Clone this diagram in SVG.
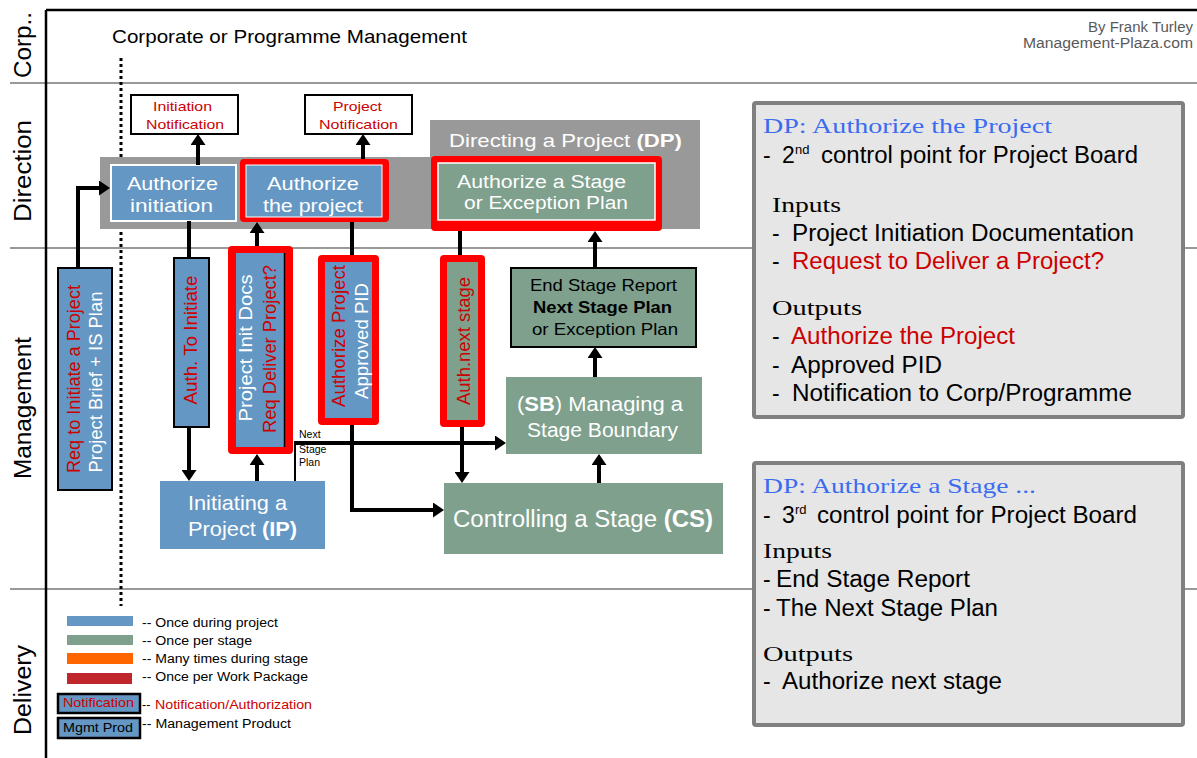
<svg xmlns="http://www.w3.org/2000/svg" width="1197" height="758" viewBox="0 0 1197 758">
<style>
text{font-family:"Liberation Sans",Arial,sans-serif}
.serif{font-family:"Liberation Serif","Times New Roman",serif}
.lane{font-size:23px;fill:#000}
.w{fill:#fff}
.r{fill:#cc0000}
.k{fill:#000}
.blue{fill:#6497c3}
.green{fill:#7ea08d}
.redhl{fill:#ff0000}
.conn{fill:none;stroke:#000;stroke-width:4}
.info{fill:#e6e6e6;stroke:#808080;stroke-width:4}
.lg{font-size:12.5px}
</style>
<defs>
<marker id="ah" viewBox="0 0 11 15" refX="3" refY="7.5" markerWidth="11" markerHeight="15" markerUnits="userSpaceOnUse" orient="auto">
<path d="M0,0 L11,7.5 L0,15 z" fill="#000"/>
</marker>
</defs>
<rect width="1197" height="758" fill="#fff"/>

<!-- frame and lanes -->
<g id="lanes">
<line x1="10" y1="83" x2="1197" y2="83" stroke="#999" stroke-width="2"/>
<line x1="10" y1="248" x2="1197" y2="248" stroke="#999" stroke-width="2"/>
<line x1="10" y1="589" x2="1197" y2="589" stroke="#999" stroke-width="2"/>
<line x1="46" y1="10" x2="1197" y2="10" stroke="#000" stroke-width="2.5"/>
<line x1="46" y1="10" x2="46" y2="758" stroke="#000" stroke-width="2.5"/>
<line x1="121" y1="58" x2="121" y2="606" stroke="#000" stroke-width="3" stroke-dasharray="3 3"/>
<text class="lane" text-anchor="middle" textLength="66" lengthAdjust="spacingAndGlyphs" transform="translate(31,45) rotate(-90)">Corp..</text>
<text class="lane" text-anchor="middle" textLength="102" lengthAdjust="spacingAndGlyphs" transform="translate(31,171) rotate(-90)">Direction</text>
<text class="lane" text-anchor="middle" textLength="142" lengthAdjust="spacingAndGlyphs" transform="translate(31,408) rotate(-90)">Management</text>
<text class="lane" text-anchor="middle" textLength="90" lengthAdjust="spacingAndGlyphs" transform="translate(31,690) rotate(-90)">Delivery</text>
<text x="112" y="43" font-size="19" textLength="355" lengthAdjust="spacingAndGlyphs">Corporate or Programme Management</text>
<text x="1088" y="32" font-size="14" fill="#595959" textLength="105" lengthAdjust="spacingAndGlyphs">By Frank Turley</text>
<text x="1023" y="48" font-size="14" fill="#595959" textLength="170" lengthAdjust="spacingAndGlyphs">Management-Plaza.com</text>
</g>

<!-- DP backdrop -->
<g id="dp">
<rect x="100" y="157" width="600" height="72" fill="#999"/>
<rect x="430" y="120" width="270" height="109" fill="#999"/>
<text x="449" y="147" font-size="19" class="w" textLength="233" lengthAdjust="spacingAndGlyphs">Directing a Project <tspan font-weight="bold">(DP)</tspan></text>
</g>

<g id="auth-init">
<rect x="111" y="165" width="125" height="56" class="blue" stroke="#fff" stroke-width="2"/>
<text x="127" y="190" font-size="19" class="w" textLength="91" lengthAdjust="spacingAndGlyphs">Authorize</text>
<text x="130" y="212" font-size="19" class="w" textLength="83" lengthAdjust="spacingAndGlyphs">initiation</text>
</g>

<g id="auth-project">
<rect x="240" y="159" width="149" height="63" rx="4" class="redhl"/>
<rect x="246" y="165" width="136" height="52" class="blue" stroke="#fff" stroke-width="1"/>
<text x="267" y="190" font-size="19" class="w" textLength="92" lengthAdjust="spacingAndGlyphs">Authorize</text>
<text x="263" y="212" font-size="19" class="w" textLength="100" lengthAdjust="spacingAndGlyphs">the project</text>
</g>

<g id="auth-stage">
<rect x="431" y="156" width="231" height="75" rx="4" class="redhl"/>
<rect x="438" y="163" width="217" height="57" class="green" stroke="#fff" stroke-width="1.5"/>
<text x="457" y="188" font-size="18" class="w" textLength="169" lengthAdjust="spacingAndGlyphs">Authorize a Stage</text>
<text x="464" y="209" font-size="18" class="w" textLength="164" lengthAdjust="spacingAndGlyphs">or Exception Plan</text>
</g>

<g id="init-notification">
<rect x="131" y="95" width="107" height="39" fill="#fff" stroke="#000" stroke-width="2"/>
<text x="153" y="111" font-size="13.5" class="r" textLength="59" lengthAdjust="spacingAndGlyphs">Initiation</text>
<text x="146" y="129" font-size="13.5" class="r" textLength="78" lengthAdjust="spacingAndGlyphs">Notification</text>
</g>

<g id="project-notification">
<rect x="305" y="95" width="107" height="39" fill="#fff" stroke="#000" stroke-width="2"/>
<text x="333" y="111" font-size="13.5" class="r" textLength="49" lengthAdjust="spacingAndGlyphs">Project</text>
<text x="319" y="129" font-size="13.5" class="r" textLength="79" lengthAdjust="spacingAndGlyphs">Notification</text>
</g>

<!-- Management lane products -->
<g id="req-initiate">
<rect x="58" y="268" width="54" height="222" class="blue" stroke="#000" stroke-width="2"/>
<text font-size="18" class="r" text-anchor="middle" textLength="188" lengthAdjust="spacingAndGlyphs" transform="translate(80,379) rotate(-90)">Req to Initiate a Project</text>
<text font-size="18" class="w" text-anchor="middle" textLength="181" lengthAdjust="spacingAndGlyphs" transform="translate(102,382) rotate(-90)">Project Brief + IS Plan</text>
</g>

<g id="auth-to-initiate">
<rect x="174" y="258" width="35" height="169" class="blue" stroke="#000" stroke-width="2"/>
<text font-size="18" class="r" text-anchor="middle" textLength="129" lengthAdjust="spacingAndGlyphs" transform="translate(197,340) rotate(-90)">Auth. To Initiate</text>
</g>

<g id="pid-docs">
<rect x="228" y="246" width="65" height="208" rx="4" class="redhl"/>
<rect x="236" y="253" width="49" height="194" class="blue"/>
<line x1="284.5" y1="253" x2="284.5" y2="447" stroke="#000" stroke-width="1.5"/>
<text font-size="18" class="w" text-anchor="middle" textLength="147" lengthAdjust="spacingAndGlyphs" transform="translate(252,348) rotate(-90)">Project Init Docs</text>
<text font-size="18" class="r" text-anchor="middle" textLength="168" lengthAdjust="spacingAndGlyphs" transform="translate(276,349) rotate(-90)">Req Deliver Project?</text>
</g>

<g id="approved-pid">
<rect x="318" y="255" width="61" height="170" rx="4" class="redhl"/>
<rect x="325" y="262" width="47" height="156" class="blue"/>
<text font-size="18" class="r" text-anchor="middle" textLength="142" lengthAdjust="spacingAndGlyphs" transform="translate(345,336) rotate(-90)">Authorize Project</text>
<text font-size="18" class="w" text-anchor="middle" textLength="116" lengthAdjust="spacingAndGlyphs" transform="translate(368,341) rotate(-90)">Approved PID</text>
</g>

<g id="auth-next-stage">
<rect x="440" y="255" width="45" height="172" rx="4" class="redhl"/>
<rect x="447" y="262" width="31" height="158" class="green"/>
<text font-size="18" class="r" text-anchor="middle" textLength="128" lengthAdjust="spacingAndGlyphs" transform="translate(470,341) rotate(-90)">Auth.next stage</text>
</g>

<g id="end-stage-report">
<rect x="511" y="268" width="185" height="79" class="green" stroke="#000" stroke-width="2"/>
<text x="530" y="291" font-size="16.5" class="k" textLength="147" lengthAdjust="spacingAndGlyphs">End Stage Report</text>
<text x="533" y="313" font-size="16.5" font-weight="bold" class="k" textLength="139" lengthAdjust="spacingAndGlyphs">Next Stage Plan</text>
<text x="532" y="335" font-size="16.5" class="k" textLength="146" lengthAdjust="spacingAndGlyphs">or Exception Plan</text>
</g>

<g id="sb">
<rect x="506" y="377" width="196" height="77" class="green"/>
<text x="517" y="411" font-size="20" class="w" textLength="166" lengthAdjust="spacingAndGlyphs">(<tspan font-weight="bold">SB</tspan>) Managing  a</text>
<text x="527" y="437" font-size="20" class="w" textLength="151" lengthAdjust="spacingAndGlyphs">Stage Boundary</text>
</g>

<g id="ip">
<rect x="160" y="481" width="165" height="68" class="blue"/>
<text x="188" y="510" font-size="21" class="w" textLength="99" lengthAdjust="spacingAndGlyphs">Initiating a</text>
<text x="188" y="536" font-size="21" class="w" textLength="109" lengthAdjust="spacingAndGlyphs">Project <tspan font-weight="bold">(IP)</tspan></text>
</g>

<g id="cs">
<rect x="444" y="483" width="279" height="71" class="green"/>
<text x="453" y="527" font-size="23" class="w" textLength="260" lengthAdjust="spacingAndGlyphs">Controlling a Stage <tspan font-weight="bold">(CS)</tspan></text>
</g>

<!-- connectors -->
<g id="connectors">
<path class="conn" d="M78,268 V188 H102" marker-end="url(#ah)"/>
<path class="conn" d="M198,165 V142" marker-end="url(#ah)"/>
<path class="conn" d="M363,159 V142" marker-end="url(#ah)"/>
<path class="conn" d="M189,221 V258"/>
<path class="conn" d="M189,427 V473" marker-end="url(#ah)"/>
<path class="conn" d="M257,246 V230" marker-end="url(#ah)"/>
<path class="conn" d="M257,481 V462" marker-end="url(#ah)"/>
<path class="conn" d="M352,222 V255"/>
<path class="conn" d="M352,425 V510 H436" marker-end="url(#ah)"/>
<path class="conn" d="M460,231 V255"/>
<path class="conn" d="M462,427 V475" marker-end="url(#ah)"/>
<path fill="none" stroke="#000" stroke-width="2" d="M295,481 V443"/>
<path class="conn" d="M294,443 H498" marker-end="url(#ah)"/>
<path class="conn" d="M599,483 V462" marker-end="url(#ah)"/>
<path class="conn" d="M595,377 V355" marker-end="url(#ah)"/>
<path class="conn" d="M595,268 V239" marker-end="url(#ah)"/>
<text x="299" y="438" font-size="10.5" class="k">Next</text>
<text x="299" y="453" font-size="10.5" class="k">Stage</text>
<text x="299" y="466" font-size="10.5" class="k">Plan</text>
</g>

<!-- info boxes -->
<g id="info-project">
<rect x="754" y="103" width="429" height="314" rx="2" class="info"/>
<text x="763" y="133" font-size="22" class="serif" fill="#3b6cf0" textLength="289" lengthAdjust="spacingAndGlyphs">DP: Authorize the Project</text>
<text x="763" y="163" font-size="23" class="k">-</text>
<text x="782" y="163" font-size="23" class="k">2</text>
<text x="795" y="154" font-size="13" class="k">nd</text>
<text x="821" y="163" font-size="23" class="k" textLength="317" lengthAdjust="spacingAndGlyphs">control point for Project Board</text>
<text x="772" y="212" font-size="22" class="serif k" textLength="69" lengthAdjust="spacingAndGlyphs">Inputs</text>
<text x="772" y="241" font-size="23" class="k">-</text>
<text x="792" y="241" font-size="23" class="k" textLength="342" lengthAdjust="spacingAndGlyphs">Project Initiation Documentation</text>
<text x="772" y="269" font-size="23" class="k">-</text>
<text x="792" y="269" font-size="23" class="r" textLength="312" lengthAdjust="spacingAndGlyphs">Request to Deliver a Project?</text>
<text x="772" y="315" font-size="22" class="serif k" textLength="90" lengthAdjust="spacingAndGlyphs">Outputs</text>
<text x="772" y="344" font-size="23" class="k">-</text>
<text x="791" y="344" font-size="23" class="r" textLength="224" lengthAdjust="spacingAndGlyphs">Authorize the Project</text>
<text x="772" y="373" font-size="23" class="k">-</text>
<text x="791" y="373" font-size="23" class="k" textLength="151" lengthAdjust="spacingAndGlyphs">Approved PID</text>
<text x="772" y="401" font-size="23" class="k">-</text>
<text x="792" y="401" font-size="23" class="k" textLength="340" lengthAdjust="spacingAndGlyphs">Notification to Corp/Programme</text>
</g>

<g id="info-stage">
<rect x="754" y="463" width="429" height="262" rx="2" class="info"/>
<text x="763" y="493" font-size="22" class="serif" fill="#3b6cf0" textLength="273" lengthAdjust="spacingAndGlyphs">DP: Authorize a Stage ...</text>
<text x="763" y="523" font-size="23" class="k">-</text>
<text x="782" y="523" font-size="23" class="k">3</text>
<text x="795" y="514" font-size="13" class="k">rd</text>
<text x="817" y="523" font-size="23" class="k" textLength="320" lengthAdjust="spacingAndGlyphs">control point for Project Board</text>
<text x="763" y="558" font-size="22" class="serif k" textLength="69" lengthAdjust="spacingAndGlyphs">Inputs</text>
<text x="763" y="587" font-size="23" class="k">-</text>
<text x="776" y="587" font-size="23" class="k" textLength="194" lengthAdjust="spacingAndGlyphs">End Stage Report</text>
<text x="763" y="616" font-size="23" class="k">-</text>
<text x="776" y="616" font-size="23" class="k" textLength="222" lengthAdjust="spacingAndGlyphs">The Next Stage Plan</text>
<text x="763" y="661" font-size="22" class="serif k" textLength="90" lengthAdjust="spacingAndGlyphs">Outputs</text>
<text x="763" y="689" font-size="23" class="k">-</text>
<text x="782" y="689" font-size="23" class="k" textLength="220" lengthAdjust="spacingAndGlyphs">Authorize next stage</text>
</g>

<!-- legend -->
<g id="legend">
<rect x="67" y="616" width="66" height="10" class="blue"/>
<rect x="67" y="635" width="66" height="10" class="green"/>
<rect x="67" y="653" width="66" height="11" fill="#ff6600"/>
<rect x="67" y="673" width="65" height="11" fill="#c0272d"/>
<text x="142" y="627" class="lg k" textLength="136" lengthAdjust="spacingAndGlyphs">-- Once during project</text>
<text x="142" y="645" class="lg k" textLength="110" lengthAdjust="spacingAndGlyphs">-- Once per stage</text>
<text x="142" y="663" class="lg k" textLength="166" lengthAdjust="spacingAndGlyphs">-- Many times during stage</text>
<text x="142" y="681" class="lg k" textLength="166" lengthAdjust="spacingAndGlyphs">-- Once per Work Package</text>
<rect x="58" y="694" width="82" height="19" class="blue" stroke="#000" stroke-width="2.5"/>
<text x="63" y="707" font-size="13" class="r" textLength="71" lengthAdjust="spacingAndGlyphs">Notification</text>
<text x="142" y="709" class="lg k">--</text>
<text x="155" y="709" class="lg r" textLength="157" lengthAdjust="spacingAndGlyphs">Notification/Authorization</text>
<rect x="58" y="718" width="82" height="20" class="blue" stroke="#000" stroke-width="2.5"/>
<text x="63" y="732" font-size="13" class="k" textLength="70" lengthAdjust="spacingAndGlyphs">Mgmt Prod</text>
<text x="142" y="728" class="lg k" textLength="149" lengthAdjust="spacingAndGlyphs">-- Management Product</text>
</g>
</svg>
